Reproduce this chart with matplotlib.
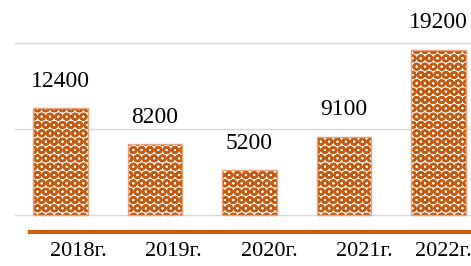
import matplotlib.pyplot as plt

# data
years = ['2018г.', '2019г.', '2020г.', '2021г.', '2022г.']
values = [12400, 8200, 5200, 9100, 19200]
grid_vals = [0, 10000, 20000]

orange = '#c55a11'
plt.rcParams['font.family'] = ['Liberation Serif', 'DejaVu Serif']
plt.rcParams['hatch.linewidth'] = 1.7

fig = plt.figure(figsize=(4.71, 2.66), dpi=100)
ax = fig.add_axes([0, 0, 1, 1])
ax.set_xlim(-0.64, 4.344)
ax.set_ylim(-5930, 25000)
ax.axis('off')

for g in grid_vals:
    ax.axhline(g, xmin=15 / 471, xmax=1, color='#d9d9d9', lw=1, zorder=0)

x = range(len(values))
ax.bar(x, values, width=0.58, color='white', edgecolor=orange, hatch='OO', lw=0, zorder=2)
ax.bar(x, values, width=0.58, fill=False, edgecolor='#e8a27a', lw=1, zorder=3)

for i, v in enumerate(values):
    ax.annotate(str(v), (i, v), xytext=(0, 27), textcoords='offset pixels',
                ha='center', va='center', fontsize=17, color='black')

# axis line
ax.axhline(-1980, xmin=30 / 471, xmax=1, color=orange, lw=3)

# category labels sit a bit right of the bars (last one is cut by the edge)
shift = [18, 18, 20, 20, 5]
for i, lab in enumerate(years):
    ax.annotate(lab, (i, -4300), xytext=(shift[i], 0), textcoords='offset pixels',
                ha='center', va='center', fontsize=16, color='black')

fig.savefig('out.png', dpi=100)
